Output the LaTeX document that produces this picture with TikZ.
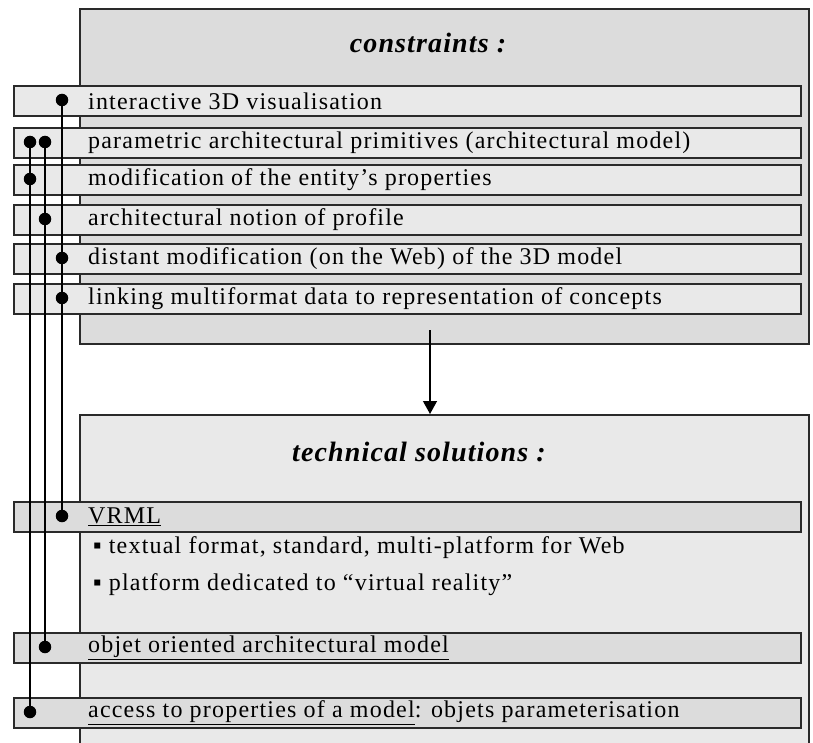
\documentclass[tikz,border=0pt]{standalone}
\usepackage{fontspec}
\setmainfont{Liberation Serif}
\usetikzlibrary{arrows.meta}
\definecolor{boxA}{HTML}{DCDCDC}
\definecolor{boxB}{HTML}{E9E9E9}
\definecolor{edge}{HTML}{2A2A2A}
\begin{document}
\begin{tikzpicture}[x=1pt,y=-1pt,
  panel/.style={draw=edge, line width=1.6pt, anchor=north west, inner sep=0pt, minimum width=729pt},
  rowbox/.style={draw=edge, line width=1.6pt, anchor=north west, inner sep=0pt, minimum width=787pt, minimum height=30pt},
  rowtext/.style={anchor=west, inner sep=0pt, font=\addfontfeature{LetterSpace=5}\fontsize{24}{26}\selectfont},
  titletext/.style={inner sep=0pt, font=\addfontfeature{LetterSpace=4}\fontsize{28}{30}\selectfont\bfseries\itshape},
  dot/.style={circle, fill=black, inner sep=0pt, minimum size=12.5pt},
  link/.style={line width=1.5pt, black},
]
\useasboundingbox (0,0) rectangle (813,743);
\clip (0,0) rectangle (813,743);
% panels
\node[panel, fill=boxA, minimum height=335pt] (top) at (79,8) {};
\node[panel, fill=boxB, minimum height=360pt] (bottom) at (79,414) {};
\node[titletext] (t1) at (428,43) {constraints :};
\node[titletext] (t2) at (419,452) {technical solutions :};
% constraint rows
\node[rowbox, fill=boxB] (r1) at (13,85) {};
\node[rowbox, fill=boxB] (r2) at (13,127) {};
\node[rowbox, fill=boxB] (r3) at (13,164) {};
\node[rowbox, fill=boxB] (r4) at (13,204) {};
\node[rowbox, fill=boxB] (r5) at (13,243) {};
\node[rowbox, fill=boxB] (r6) at (13,283) {};
\node[rowtext] (x1) at (88,101) {interactive 3D visualisation};
\node[rowtext] (x2) at (88,143) {parametric architectural primitives (architectural model)};
\node[rowtext] (x3) at (88,180) {modification of the entity's properties};
\node[rowtext] (x4) at (88,220) {architectural notion of profile};
\node[rowtext] (x5) at (88,259) {distant modification (on the Web) of the 3D model};
\node[rowtext] (x6) at (88,299) {linking multiformat data to representation of concepts};
% solution rows
\node[rowbox, fill=boxA] (s1) at (13,501) {};
\node[rowbox, fill=boxA] (s2) at (13,632) {};
\node[rowbox, fill=boxA] (s3) at (13,697) {};
\node[rowtext] (y1) at (88,517) {\underline{VRML}};
\node[rowtext] (b1) at (93,548) {▪ textual format, standard, multi-platform for Web};
\node[rowtext] (b2) at (93,585) {▪ platform  dedicated to “virtual reality”};
\node[rowtext] (y2) at (88,648) {\underline{objet oriented architectural model}};
\node[rowtext] (y3) at (88,713) {\underline{access to properties of a model}: objets parameterisation};
% arrow
\coordinate (astart) at (430,330);
\draw[line width=1.3pt, -{Triangle[length=13pt,width=14pt]}] (astart) -- (astart |- bottom.north);
% dots
\node[dot] (d1) at (62,100) {};
\node[dot] (d2a) at (30,142) {};
\node[dot] (d2b) at (45,142) {};
\node[dot] (d3) at (30,179) {};
\node[dot] (d4) at (45,219) {};
\node[dot] (d5) at (62,258) {};
\node[dot] (d6) at (62,298) {};
\node[dot] (e1) at (62,516) {};
\node[dot] (e2) at (45,647) {};
\node[dot] (e3) at (30,712) {};
% links
\draw[link] (d1.center) -- (e1.center);
\draw[link] (d2b.center) -- (e2.center);
\draw[link] (d2a.center) -- (e3.center);
\end{tikzpicture}
\end{document}
